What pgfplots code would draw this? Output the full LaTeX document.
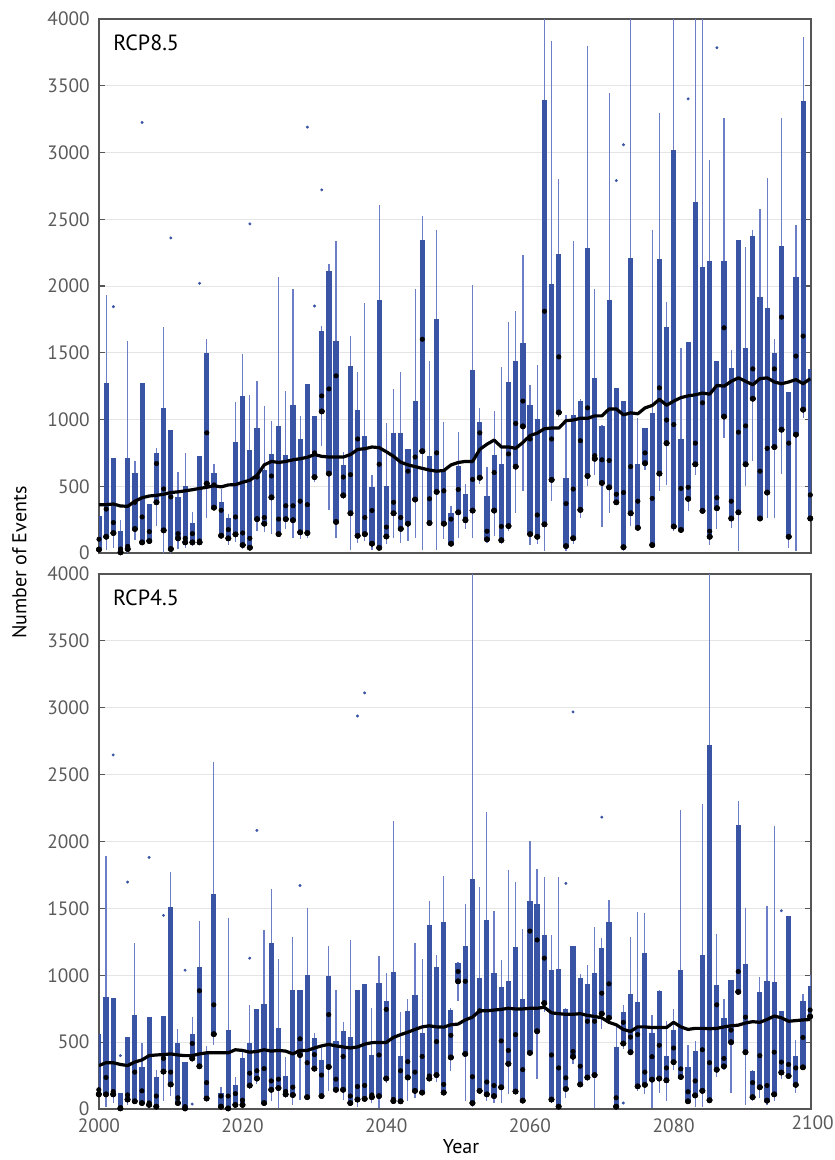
\documentclass[border=0pt]{standalone}
\usepackage{fontspec}
\setmainfont{PT Sans}
\usepackage{pgfplots}
\usepackage{pgfplotstable}
\pgfplotsset{compat=1.18}
\definecolor{boxblue}{RGB}{58,84,165}
\definecolor{whisk}{RGB}{108,126,200}
\definecolor{framegray}{RGB}{85,85,85}
\definecolor{tickgray}{RGB}{90,90,90}

% yr lo q1 med q3 hi ma
\pgfplotstableread{
yr lo q1 med q3 hi ma
2000 10 26 103 279 279 362
2001 26 122 329 1273 1935 362
2002 40 150 228 710 710 367
2003 0 5 30 165 250 352
2004 0 30 50 710 1590 350
2005 100 180 380 600 690 388
2006 60 80 270 1273 1273 414
2007 70 90 160 370 370 427
2008 200 380 670 750 790 432
2009 0 170 480 1085 1690 440
2010 0 30 420 920 920 453
2011 30 110 145 420 610 458
2012 40 80 110 500 750 466
2013 50 80 145 225 310 474
2014 70 80 90 730 730 484
2015 260 520 900 1500 1600 492
2016 340 340 510 600 670 504
2017 110 130 320 380 480 495
2018 60 110 175 260 290 510
2019 80 140 270 830 1130 512
2020 30 60 150 1175 1490 530
2021 30 40 110 770 1180 545
2022 168 254 569 936 1286 582
2023 155 220 266 618 1099 660
2024 142 417 577 745 991 686
2025 129 142 254 949 2070 678
2026 181 254 354 737 1211 686
2027 116 246 354 1105 1979 698
2028 103 155 388 851 1027 706
2029 116 150 362 1268 1268 717
2030 530 569 750 1027 1027 737
2031 800 1061 1177 1661 1700 724
2032 323 595 1229 2116 2168 719
2033 116 233 1327 1591 2336 719
2034 401 432 569 660 758 719
2035 26 298 587 1397 1622 737
2036 78 129 854 1074 1358 776
2037 91 142 266 874 1870 781
2038 26 70 318 492 587 794
2039 26 39 665 1896 2605 789
2040 65 124 194 504 975 758
2041 116 298 380 898 1229 724
2042 78 181 266 898 1358 680
2043 91 220 613 781 781 660
2044 116 401 719 1138 1979 647
2045 26 763 1601 2346 2522 634
2046 207 225 406 724 1436 621
2047 26 458 750 1751 2419 613
2048 103 220 466 613 983 618
2049 52 70 254 298 349 660
2050 111 305 476 655 903 678
2051 181 246 254 442 517 686
2052 116 318 551 1371 2005 686
2053 517 564 900 983 1087 776
2054 78 103 163 427 647 815
2055 129 318 603 737 1061 846
2056 65 96 199 665 1392 794
2057 168 202 742 1281 1728 794
2058 298 647 970 1436 1816 784
2059 466 949 1138 1575 2230 828
2060 57 142 854 1112 1255 880
2061 65 122 285 1001 1405 898
2062 13 215 1811 3397 4000 931
2063 388 548 854 2015 3837 936
2064 1022 1053 1469 2243 2799 936
2065 13 52 370 564 1035 991
2066 65 111 479 1030 2336 996
2067 259 323 841 1138 1151 1009
2068 504 577 1087 2282 3795 1009
2069 582 706 729 1314 1979 1027
2070 194 525 698 955 960 1027
2071 298 492 693 1896 3446 1079
2072 380 380 440 1234 1234 1079
2073 13 44 453 1138 1138 1035
2074 200 298 647 2212 4000 1050
2075 168 189 388 665 1009 1043
2076 621 673 750 936 936 1087
2077 60 60 409 1048 2419 1105
2078 466 595 1237 2204 3298 1151
2079 512 823 996 1694 1881 1107
2080 168 199 962 3019 4000 1138
2081 168 173 484 854 1532 1164
2082 316 406 492 1578 1578 1177
2083 582 665 823 2626 4000 1185
2084 298 316 1125 2142 4000 1198
2085 60 122 163 2186 2941 1190
2086 181 336 414 1436 1436 1255
2087 860 1022 1687 2186 3260 1250
2088 189 259 388 1389 1519 1286
2089 13 305 905 2341 2341 1312
2090 504 665 952 1532 2295 1286
2091 686 1156 1379 2377 2419 1260
2092 240 259 613 1914 2574 1306
2093 259 453 784 1832 2812 1312
2094 259 794 1379 1500 1600 1281
2095 595 924 1767 2297 3260 1268
2096 39 122 823 1208 1208 1281
2097 13 887 1475 2064 2458 1299
2098 1009 1074 1625 3386 3862 1268
2099 259 259 435 1379 1379 1306
}\toptab

\pgfplotstableread{
yr lo q1 med q3 hi ma
2000 100 110 144 560 570 325
2001 18 110 236 840 1889 346
2002 45 110 131 830 830 346
2003 0 5 10 123 123 333
2004 30 71 105 535 535 325
2005 40 58 276 700 1238 351
2006 31 45 136 315 490 367
2007 20 31 45 686 686 399
2008 0 18 97 236 294 404
2009 58 280 378 693 693 407
2010 97 184 276 1513 1770 412
2011 31 45 84 490 600 404
2012 0 5 18 352 352 399
2013 367 378 490 560 690 399
2014 302 320 884 1062 1403 412
2015 79 79 197 420 470 420
2016 480 560 779 1605 2597 420
2017 18 18 97 123 168 420
2018 5 5 97 587 1427 420
2019 31 31 115 176 236 443
2020 31 31 66 378 425 438
2021 150 176 268 490 779 425
2022 189 228 286 745 745 430
2023 20 45 302 784 1338 443
2024 58 144 210 1238 1645 433
2025 5 157 223 609 1120 438
2026 84 110 131 249 386 433
2027 31 105 163 889 1283 412
2028 71 404 525 889 889 438
2029 71 89 346 1002 1500 438
2030 294 302 407 530 569 456
2031 84 97 254 367 464 472
2032 136 315 706 994 1217 483
2033 136 144 223 511 892 472
2034 66 144 393 582 648 464
2035 31 45 97 535 1264 456
2036 18 71 168 889 889 464
2037 60 76 176 931 931 485
2038 45 89 105 407 758 496
2039 10 97 404 942 1146 498
2040 194 228 745 810 1015 498
2041 58 60 71 1023 2156 535
2042 45 58 286 393 727 556
2043 58 236 354 732 826 574
2044 84 136 276 850 1238 595
2045 110 123 393 569 1120 614
2046 215 228 247 1374 1558 622
2047 202 254 504 1060 1154 614
2048 110 123 184 1395 1742 612
2049 281 386 551 740 753 630
2050 805 955 1028 1089 1100 635
2051 58 412 955 1217 1532 666
2052 18 45 241 1718 4000 687
2053 123 136 734 981 1658 734
2054 58 110 202 1416 2222 734
2055 45 97 176 1020 1479 740
2056 45 163 509 915 1112 745
2057 110 338 438 955 1784 753
2058 110 131 556 1212 1697 748
2059 45 63 294 826 1343 748
2060 412 420 1330 1558 2004 753
2061 228 582 1264 1534 1794 753
2062 727 792 1128 1298 1736 761
2063 45 71 404 1036 1300 719
2064 18 18 307 1047 1736 713
2065 84 150 233 745 753 708
2066 333 391 430 1220 1220 708
2067 176 184 320 981 1007 713
2068 215 236 656 931 1075 700
2069 10 254 656 1015 1364 692
2070 595 713 866 1204 1277 682
2071 650 682 936 1395 1561 648
2072 10 18 84 464 630 630
2073 450 490 648 727 780 595
2074 420 425 538 858 1285 580
2075 136 170 556 797 1474 614
2076 110 181 276 1165 1469 614
2077 5 220 391 569 700 609
2078 123 228 477 884 892 609
2079 63 215 307 399 661 609
2080 294 351 456 587 745 648
2081 240 240 300 1041 2235 614
2082 45 58 129 312 477 595
2083 18 102 210 430 511 603
2084 18 136 443 1151 2279 603
2085 58 66 346 2720 4000 600
2086 241 294 779 929 1311 603
2087 289 320 378 679 826 614
2088 123 500 590 968 968 622
2089 858 876 1028 2125 2306 627
2090 31 425 687 1086 1506 643
2091 58 89 197 281 294 653
2092 84 163 399 876 989 648
2093 31 63 176 955 1521 669
2094 58 110 425 950 2117 695
2095 228 273 351 734 734 682
2096 228 247 333 1443 1443 656
2097 123 181 307 399 517 661
2098 299 312 535 810 858 666
2099 680 692 740 923 1000 669
}\bottab

\pgfplotsset{
  /pgf/number format/1000 sep={},
  panel/.style={
    scale only axis, width=534pt,
    xmin=2000, xmax=2099.1, ymin=0, ymax=4000,
    ytick={0,500,...,4000},
    ymajorgrids, grid style={draw=black!10, line width=0.7pt},
    axis line style={draw=framegray, line width=1.4pt},
    ytick pos=both, yticklabel pos=left, tick align=inside,
    major tick length=4.5pt,
    ytick style={draw=framegray, line width=0.8pt},
    xtick style={draw=none},
    tick label style={font=\fontsize{14.5}{17}\selectfont, text=tickgray},
    /pgf/number format/assume math mode=true,
    yticklabel style={xshift=-3.5pt},
    xticklabel style={yshift=-4pt},
    clip mode=individual,
  },
  whiskers/.style={only marks, mark=none, forget plot,
    error bars/.cd, y dir=both, y explicit, error mark=none,
    error bar style={draw=whisk, line width=0.9pt}},
  boxes/.style={only marks, mark=none, forget plot,
    error bars/.cd, y dir=plus, y explicit, error mark=none,
    error bar style={draw=boxblue, line width=3.9pt}},
  medians/.style={only marks, mark=*, mark size=1.7pt, black, forget plot},
  outl/.style={only marks, mark=*, mark size=0.9pt, boxblue,
    mark options={draw=boxblue, fill=boxblue}, forget plot},
  mavg/.style={black, line width=2.4pt, line join=round, mark=none, forget plot},
}

\begin{document}
\begin{tikzpicture}
\useasboundingbox (0,0) rectangle (626.25pt,-870pt);

% top panel
\begin{axis}[panel, height=400.5pt, at={(74.25pt,-14.25pt)}, anchor=north west,
  xtick=\empty]
\addplot[whiskers] table[x=yr, y=q1, y error plus expr=\thisrow{hi}-\thisrow{q1}, y error minus expr=\thisrow{q1}-\thisrow{lo}] \toptab;
\addplot[boxes] table[x=yr, y=q1, y error expr=\thisrow{q3}-\thisrow{q1}] \toptab;
\addplot[mavg] table[x=yr, y=ma] \toptab;
\addplot[medians] table[x=yr, y=med] \toptab;
\addplot[outl] coordinates {(2002,1845) (2006,3225) (2010,2360) (2014,2020) (2021,2465) (2029,3190) (2030,1850) (2031,2720) (2072,2790) (2073,3058) (2082,3402) (2086,3785)};
\node[anchor=north west, inner sep=0pt, font=\fontsize{16.5}{19}\selectfont] at (rel axis cs:0,1) [xshift=10.5pt, yshift=-11.5pt] {RCP8.5};
\end{axis}

% bottom panel
\begin{axis}[panel, height=401.25pt, at={(74.25pt,-430.5pt)}, anchor=north west,
  xtick={2000,2020,2040,2060,2080}]
\addplot[whiskers] table[x=yr, y=q1, y error plus expr=\thisrow{hi}-\thisrow{q1}, y error minus expr=\thisrow{q1}-\thisrow{lo}] \bottab;
\addplot[boxes] table[x=yr, y=q1, y error expr=\thisrow{q3}-\thisrow{q1}] \bottab;
\addplot[mavg] table[x=yr, y=ma] \bottab;
\addplot[medians] table[x=yr, y=med] \bottab;
\addplot[outl] coordinates {(2002,2647) (2003,399) (2004,1697) (2007,1881) (2009,1448) (2012,1038) (2013,37) (2021,1128) (2022,2083) (2028,1671) (2036,2938) (2037,3111) (2065,1687) (2066,2969) (2070,2182) (2073,45) (2095,1482)};
\node[anchor=north west, inner sep=0pt, font=\fontsize{16.5}{19}\selectfont] at (rel axis cs:0,1) [xshift=10.5pt, yshift=-11.5pt] {RCP4.5};
\node[anchor=north east, inner sep=0pt, font=\fontsize{14.5}{17}\selectfont, text=tickgray] at (626pt,0) [yshift=-9pt] {};
\end{axis}

\node[anchor=north east, inner sep=0.5pt, font=\fontsize{14.5}{17}\selectfont, text=tickgray] at (626pt,-836.2pt) {2100};
\node[rotate=90, anchor=center, font=\fontsize{15}{18}\selectfont] at (14.5pt,-422pt) {Number of Events};
\node[anchor=base, inner sep=1pt, font=\fontsize{15}{18}\selectfont] at (345.75pt,-865pt) {Year};
\end{tikzpicture}
\end{document}
